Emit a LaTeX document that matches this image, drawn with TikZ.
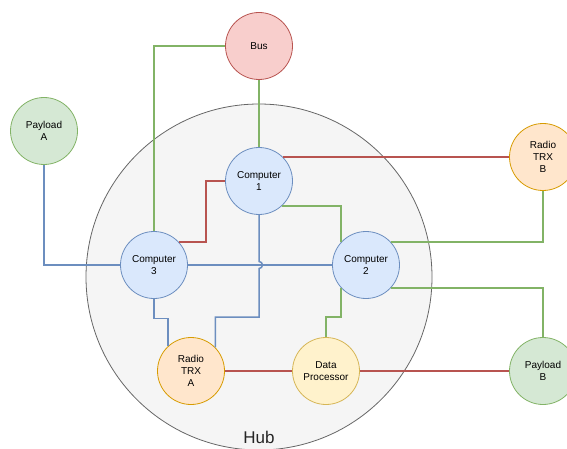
\documentclass[tikz,border=0pt]{standalone}
\usepackage{fontspec}
\setmainfont{Liberation Sans}
\usepackage{xcolor}
\usetikzlibrary{positioning, calc}

\definecolor{blueFill}{HTML}{DAE8FC}
\definecolor{blueLine}{HTML}{6C8EBF}
\definecolor{redFill}{HTML}{F8CECC}
\definecolor{redLine}{HTML}{B85450}
\definecolor{greenFill}{HTML}{D5E8D4}
\definecolor{greenLine}{HTML}{82B366}
\definecolor{orangeFill}{HTML}{FFE6CC}
\definecolor{orangeLine}{HTML}{D79B00}
\definecolor{yellowFill}{HTML}{FFF2CC}
\definecolor{yellowLine}{HTML}{D6B656}
\definecolor{hubFill}{HTML}{F5F5F5}
\definecolor{hubLine}{HTML}{666666}

\begin{document}
\begin{tikzpicture}[
    x=1pt, y=-1pt,
    unit/.style={circle, draw, line width=0.8pt, minimum size=67pt, inner sep=0pt, align=center, font=\fontsize{10}{12}\selectfont},
    comp/.style={unit, fill=blueFill, draw=blueLine},
    bus/.style={unit, fill=redFill, draw=redLine},
    payload/.style={unit, fill=greenFill, draw=greenLine},
    radio/.style={unit, fill=orangeFill, draw=orangeLine},
    proc/.style={unit, fill=yellowFill, draw=yellowLine},
    hub/.style={circle, draw=hubLine, fill=hubFill, line width=0.8pt, minimum size=346pt, inner sep=0pt},
    gLink/.style={draw=greenLine, line width=1.5pt},
    rLink/.style={draw=redLine, line width=1.5pt},
    bLink/.style={draw=blueLine, line width=1.5pt}
]
    \useasboundingbox (0,0) rectangle (567,449);

    \node[hub] (hubarea) at (259,277) {};
    \node[font=\fontsize{17}{20}\selectfont, text=black!85] (hublabel) at (259,437) {Hub};

    \node[bus] (bus) at (259,46) {Bus};
    \node[comp] (c1) at (259,181) {Computer\\1};
    \node[comp] (c3) at (154,265) {Computer\\3};
    \node[comp] (c2) at (366,265) {Computer\\2};
    \node[radio] (trxa) at (191,371) {Radio\\TRX\\A};
    \node[proc] (dp) at (326,371) {Data\\Processor};
    \node[payload] (pla) at (44,131) {Payload\\A};
    \node[radio] (trxb) at (543,157) {Radio\\TRX\\B};
    \node[payload] (plb) at (543,371) {Payload\\B};

    \draw[gLink] (bus) -- (c1);
    \draw[gLink] (bus.west) -| (c3);
    \draw[rLink] (trxb.west -| c1.46) -- (trxb.west);
    \draw[rLink] (c1.west) -- ++(-19,0) |- (c3.43);
    \draw[gLink] (c1.-47) -| (c2.138);
    \draw[bLink] (c1.south) -- (259,261.5) arc[start angle=-90, end angle=90, radius=3.5] -- (259,317) -| (trxa.44);
    \draw[bLink] (c3.east) -- (c2.west);
    \draw[bLink] (pla.south) |- (c3.west);
    \draw[bLink] (c3.south) -- ++(0,19.5) -| (trxa.133);
    \draw[rLink] (trxa.east) -- (dp.west);
    \draw[rLink] (dp.east) -- (plb.west);
    \draw[gLink] (dp.north) -- ++(0,-20) -| (c2.222);
    \draw[gLink] (c2.43) -| (trxb.south);
    \draw[gLink] (c2.-43) -| (plb.north);
\end{tikzpicture}
\end{document}
